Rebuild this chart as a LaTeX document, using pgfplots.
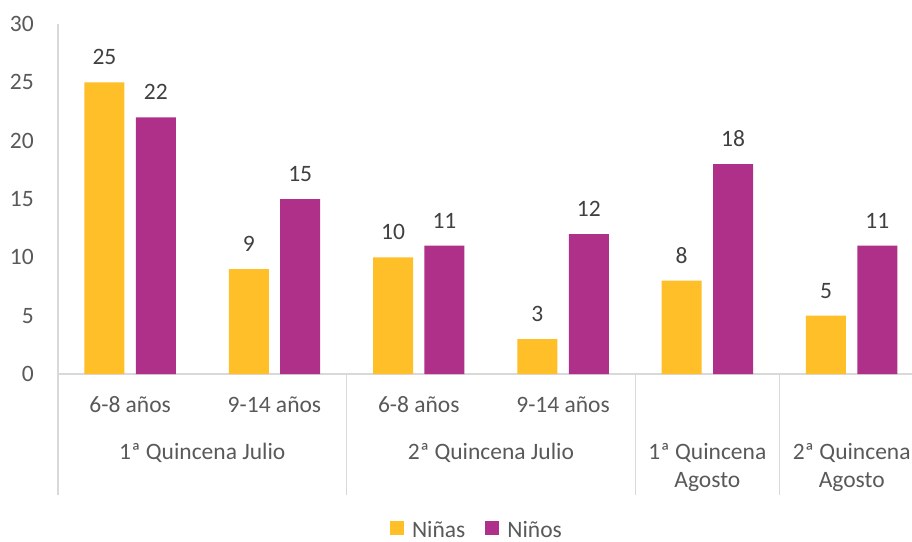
\documentclass[border=0pt]{standalone}
\usepackage{pgfplots}
\pgfplotsset{compat=1.18}
\usepackage{fontspec}
\setmainfont{Carlito}
\definecolor{cYel}{HTML}{FFBF29}
\definecolor{cPur}{HTML}{AF3088}
\definecolor{cTxt}{HTML}{595959}
\definecolor{cLab}{HTML}{404040}
\definecolor{cLine}{HTML}{D9D9D9}
\newcommand{\cf}{\fontsize{23.5}{28}\selectfont}
\begin{document}
\begin{tikzpicture}
\begin{axis}[
  at={(58pt,-374pt)}, anchor=south west,
  scale only axis, width=854pt, height=350pt,
  xmin=-0.5, xmax=5.418, ymin=0, ymax=30,
  ybar=11.4pt, bar width=40pt,
  axis x line*=bottom, axis y line*=left,
  axis line style={draw=cLine, line width=1.2pt},
  major tick length=0pt,
  ytick={0,5,...,30},
  xtick={0,1,2,3},
  xticklabels={6-8 años,9-14 años,6-8 años,9-14 años},
  /pgf/number format/assume math mode=true,
  yticklabel style={font=\cf, color=cTxt, anchor=east, inner sep=0pt, xshift=-24pt},
  xticklabel style={font=\cf, color=cTxt, anchor=base, inner sep=0pt, yshift=-38.5pt},
  nodes near coords,
  every node near coord/.append style={font=\cf, color=cLab, anchor=base, inner sep=0pt, yshift=17.5pt},
  clip=false,
  legend columns=2,
  legend style={at={(axis description cs:0.4906,-0.4457)}, anchor=center, draw=none, font=\cf, text=cTxt, inner sep=0pt,
    /tikz/every odd column/.append style={column sep=6pt},
    /tikz/every even column/.append style={column sep=18pt}},
  legend image code/.code={\fill[#1] (0pt,-5pt) rectangle (14pt,9pt);},
]
\addplot[fill=cYel, draw=none] coordinates {(0,25) (1,9) (2,10) (3,3) (4,8) (5,5)};
\addplot[fill=cPur, draw=none] coordinates {(0,22) (1,15) (2,11) (3,12) (4,18) (5,11)};
\legend{Niñas,Niños}
\draw[cLine, line width=1.2pt] (axis cs:-0.5,0) -- ++(0pt,-121pt);
\draw[cLine, line width=1.2pt] (axis cs:1.5,0) -- ++(0pt,-121pt);
\draw[cLine, line width=1.2pt] (axis cs:3.5,0) -- ++(0pt,-121pt);
\draw[cLine, line width=1.2pt] (axis cs:4.5,0) -- ++(0pt,-121pt);
\node[font=\cf, color=cTxt, anchor=base, inner sep=0pt, yshift=-85.5pt] at (axis cs:0.5,0) {1ª Quincena Julio};
\node[font=\cf, color=cTxt, anchor=base, inner sep=0pt, yshift=-85.5pt] at (axis cs:2.5,0) {2ª Quincena Julio};
\node[font=\cf, color=cTxt, anchor=base, inner sep=0pt, yshift=-85.5pt] at (axis cs:4,0) {1ª Quincena};
\node[font=\cf, color=cTxt, anchor=base, inner sep=0pt, yshift=-113.5pt] at (axis cs:4,0) {Agosto};
\node[font=\cf, color=cTxt, anchor=base, inner sep=0pt, yshift=-85.5pt] at (axis cs:5,0) {2ª Quincena};
\node[font=\cf, color=cTxt, anchor=base, inner sep=0pt, yshift=-113.5pt] at (axis cs:5,0) {Agosto};
\end{axis}
\pgfresetboundingbox
\useasboundingbox (0,0) rectangle (912pt,-541pt);
\end{tikzpicture}
\end{document}
